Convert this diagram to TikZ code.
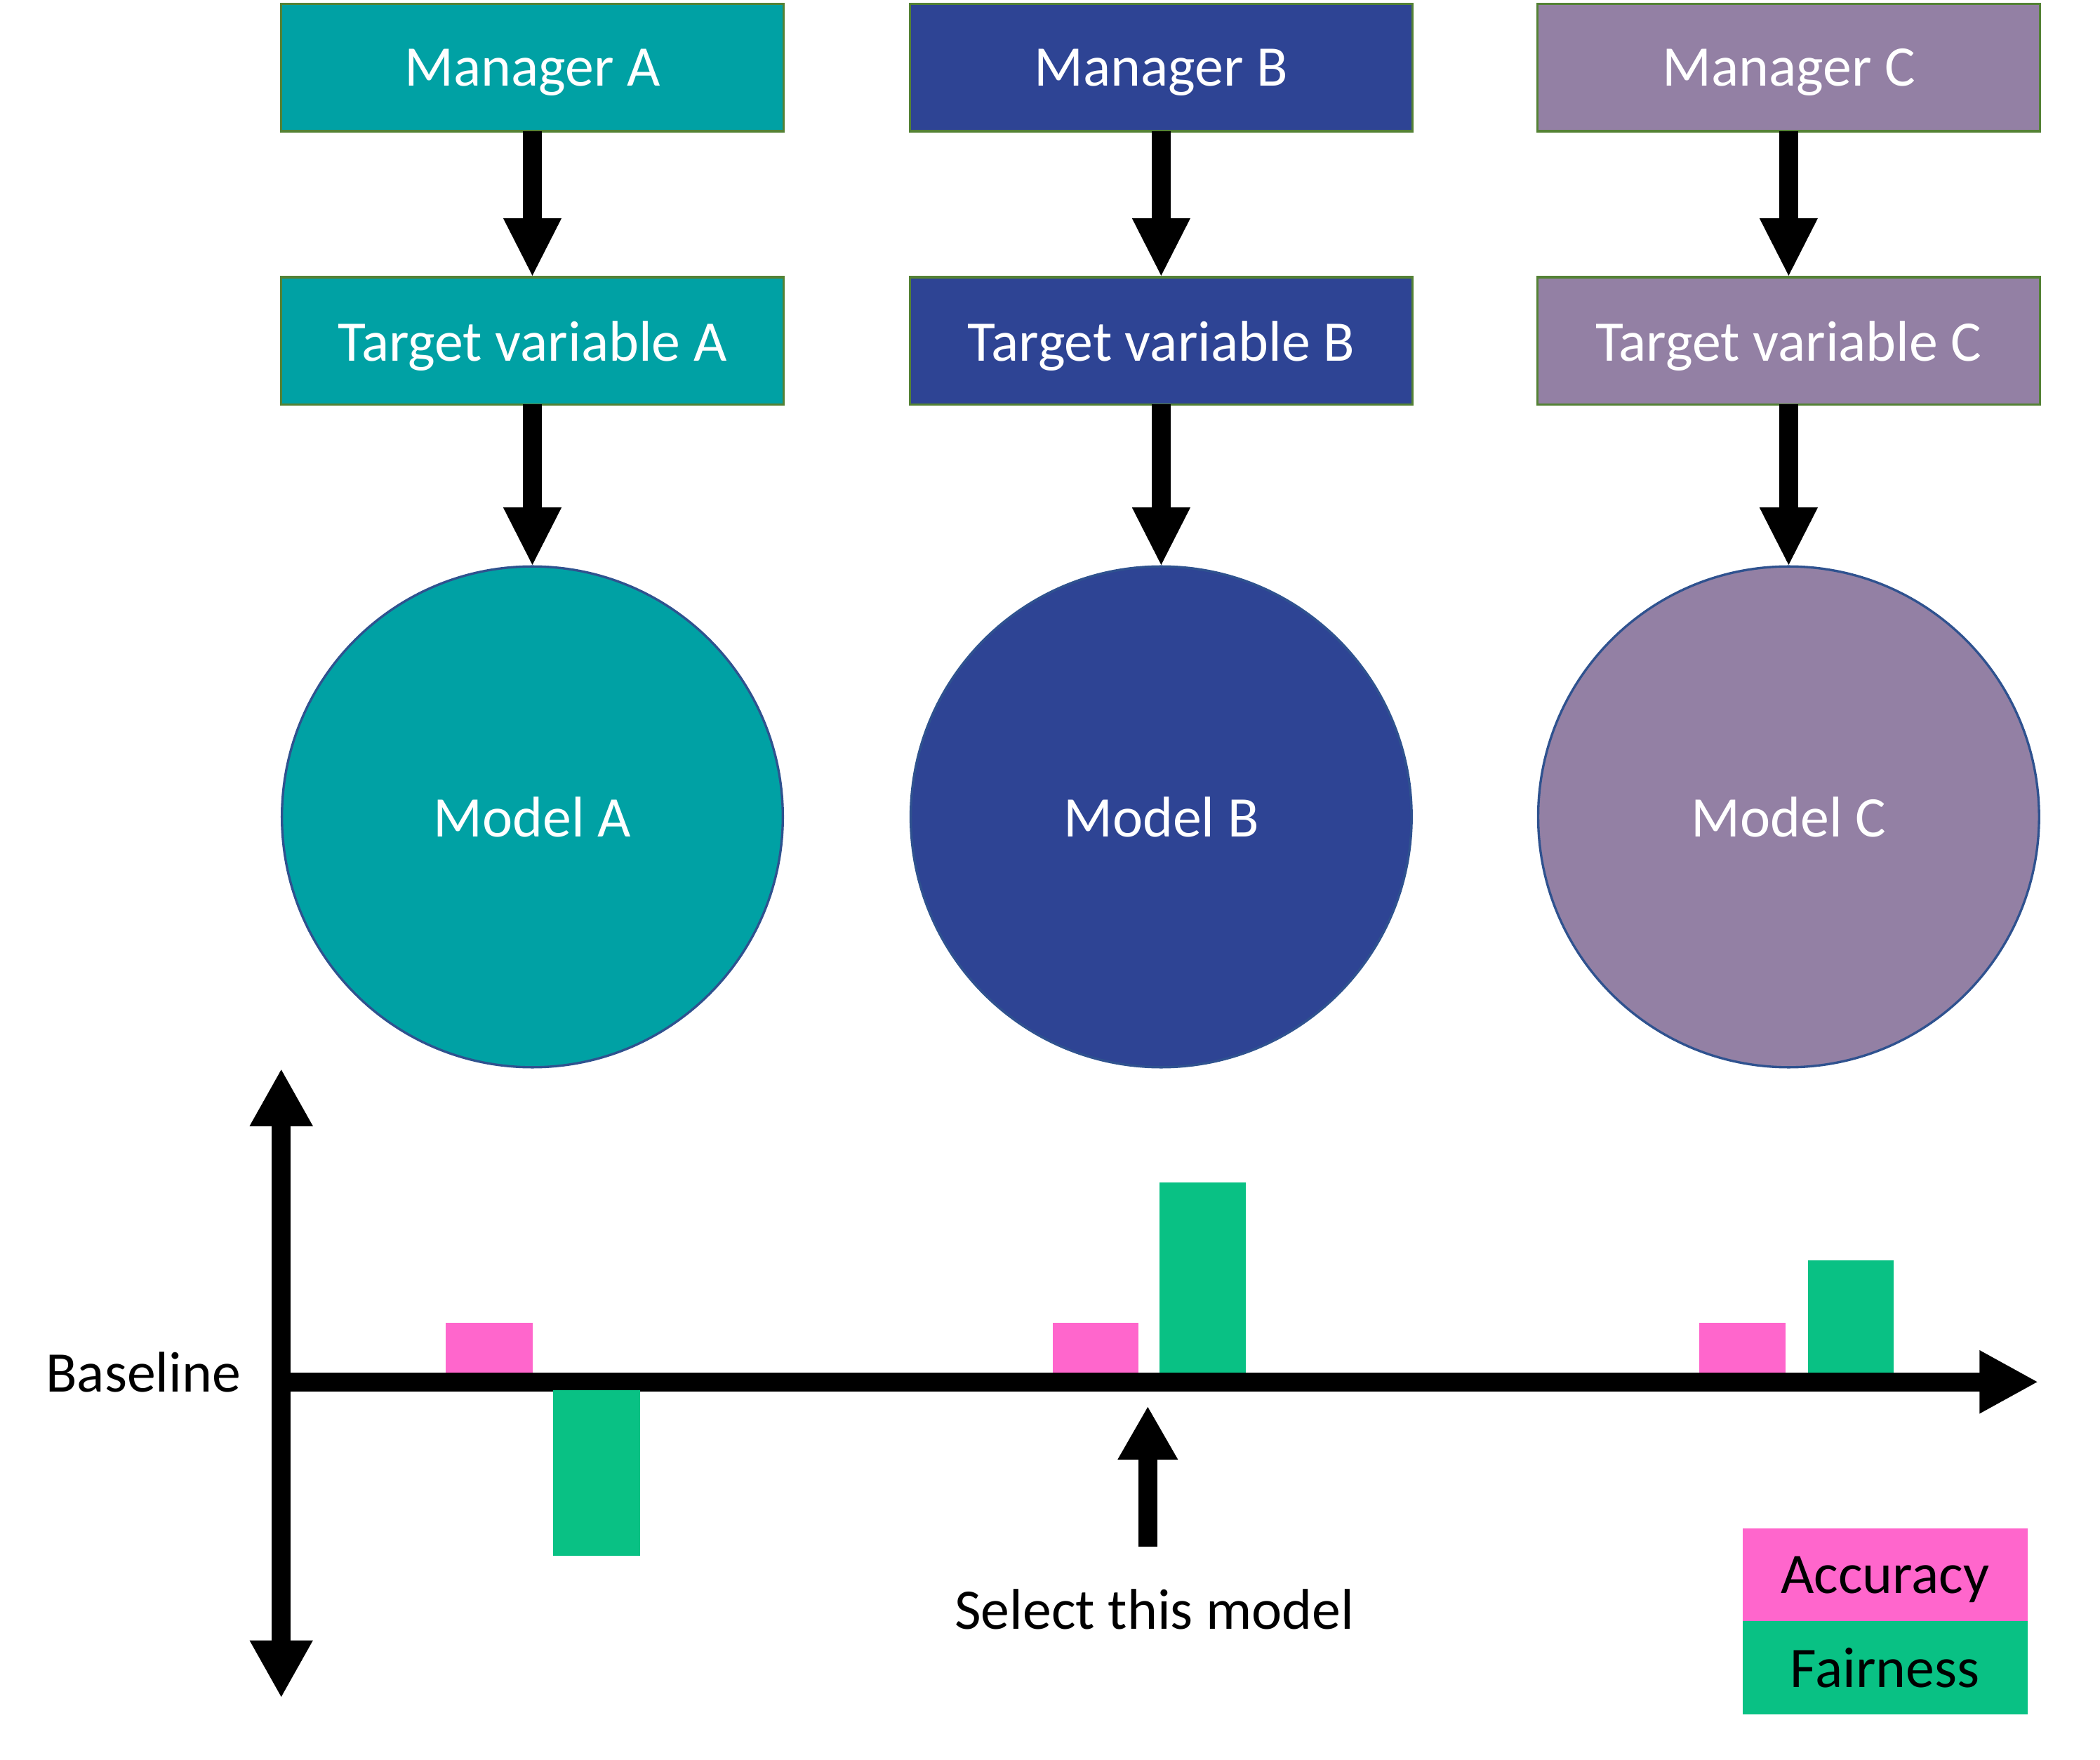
\documentclass[tikz,border=0pt]{standalone}
\usepackage{fontspec}
\setmainfont{Carlito}
\usetikzlibrary{positioning,arrows.meta}
\definecolor{mteal}{RGB}{0,161,164}
\definecolor{mnavy}{RGB}{46,68,148}
\definecolor{mmauve}{RGB}{147,128,164}
\definecolor{boxgreen}{RGB}{84,130,53}
\definecolor{circblue}{RGB}{47,82,143}
\definecolor{accpink}{RGB}{255,102,204}
\definecolor{fairgreen}{RGB}{9,193,132}

\begin{document}
\begin{tikzpicture}[x=0.2mm, y=-0.2mm, every node/.style={font=\fontsize{24.4}{29}\selectfont}]
  \tikzset{
    mgrbox/.style={draw=boxgreen, line width=1pt, minimum width=7.5cm, minimum height=1.9cm, inner sep=0pt, outer sep=0pt, text depth=0pt, text=white},
    modcirc/.style={circle, draw=circblue, line width=1pt, minimum size=7.48cm, inner sep=0pt, outer sep=0pt, text=white},
    flow/.style={line width=8pt, -{Triangle[width=0.8cm, length=0.88cm]}},
    axisline/.style={line width=8pt, {Triangle[width=0.88cm, length=0.86cm]}-{Triangle[width=0.88cm, length=0.86cm]}},
    legbox/.style={minimum width=4.26cm, minimum height=1.39cm, inner sep=0pt, outer sep=0pt, text depth=0pt}
  }
  \useasboundingbox (0,0) rectangle (1568,1314);

  % --- TOP: manager -> target -> model ---
  \foreach \m/\x/\col in {A/397.5/mteal, B/867/mnavy, C/1335.5/mmauve} {
    \node[mgrbox, fill=\col] (mgr\m) at (\x, 50.5) {Manager \m};
    \node[mgrbox, fill=\col, below=2.18cm of mgr\m] (tgt\m) {Target variable \m};
    \node[modcirc, fill=\col, below=2.42cm of tgt\m] (mod\m) {Model \m};
    \draw[flow] (mgr\m) -- (tgt\m);
    \draw[flow] (tgt\m) -- (mod\m);
  }

  % --- BOTTOM: axes ---
  \coordinate (yTop) at (210, 798);
  \coordinate (yBot) at (210, 1268);
  \coordinate (xOrig) at (203, 1032);
  \coordinate (xEnd) at (1522, 1032);
  \draw[axisline] (yBot) -- (yTop);
  \draw[line width=8pt, -{Triangle[width=0.88cm, length=0.88cm]}] (xOrig) -- (xEnd);
  \node (base) at (107, 1025) {Baseline};

  % bars (accuracy / fairness per model)
  \fill[accpink] (333, 988) rectangle (398, 1025);
  \fill[fairgreen] (413, 1038) rectangle (478, 1162);
  \fill[accpink] (786, 988) rectangle (850, 1025);
  \fill[fairgreen] (866, 883) rectangle (930, 1025);
  \fill[accpink] (1269, 988) rectangle (1333, 1025);
  \fill[fairgreen] (1350, 941) rectangle (1414, 1025);

  % selection pointer
  \node (sel) at (862, 1202) {Select this model};
  \coordinate (selTail) at (857, 1155);
  \coordinate (selTip) at (857, 1050);
  \draw[line width=8pt, -{Triangle[width=0.84cm, length=0.8cm]}] (selTail) -- (selTip);

  % legend
  \node[legbox, fill=accpink] (acc) at (1407.5, 1176) {Accuracy};
  \node[legbox, fill=fairgreen, below=0pt of acc] (fair) {Fairness};
\end{tikzpicture}
\end{document}
